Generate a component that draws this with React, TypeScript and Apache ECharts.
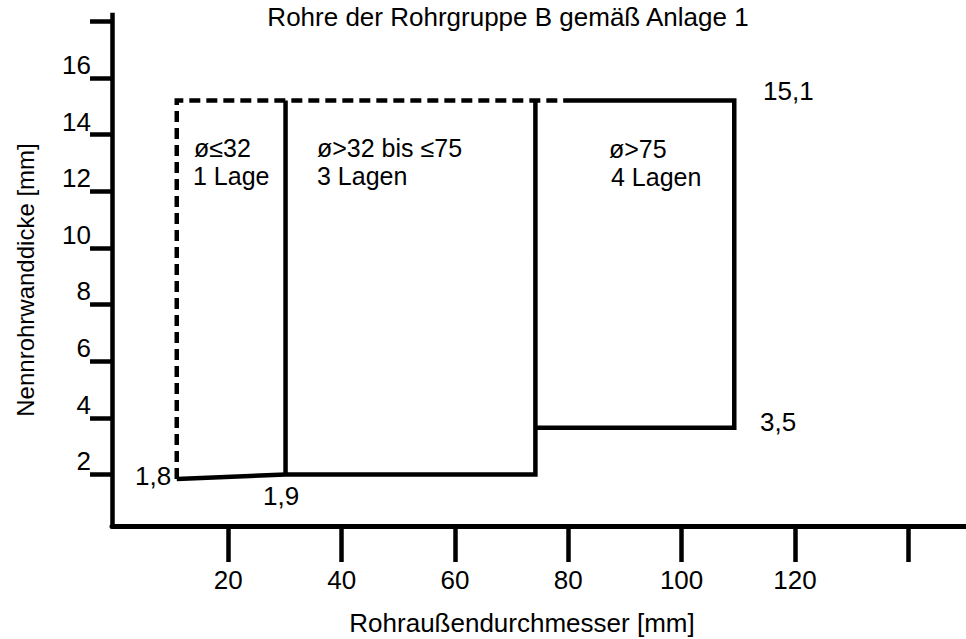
import React, { useEffect, useRef } from "react";
import * as echarts from "echarts";

const chartTitle = "Rohre der Rohrgruppe B gemäß Anlage 1";
const xAxisName = "Rohraußendurchmesser [mm]";
const yAxisName = "Nennrohrwanddicke [mm]";

const xTickValues = [20, 40, 60, 80, 100, 120, 140];
const xLabelValues = [20, 40, 60, 80, 100, 120];
const yTickValues = [2, 4, 6, 8, 10, 12, 14, 16, 18];
const yLabelValues = [2, 4, 6, 8, 10, 12, 14, 16];

// outline of the ranges (x = outer diameter mm, y = wall thickness mm)
const dashedEdge = [
  [10.9, 1.84],
  [10.9, 15.2],
  [79.1, 15.2],
];
const bottomEdge = [
  [10.9, 1.84],
  [30.1, 2.0],
  [74.2, 2.0],
  [74.2, 15.2],
];
const divider32 = [
  [30.1, 2.0],
  [30.1, 15.2],
];
const region75 = [
  [74.2, 3.65],
  [109.3, 3.65],
  [109.3, 15.2],
  [79.1, 15.2],
];

const regionTexts = [
  ["ø≤32", "1 Lage"],
  ["ø>32 bis ≤75", "3 Lagen"],
  ["ø>75", "4 Lagen"],
];
const valueTexts = ["15,1", "3,5", "1,8", "1,9"];

const FONT = "'Liberation Sans', Arial, Helvetica, sans-serif";

export default function App() {
  const ref = useRef<HTMLDivElement>(null);

  useEffect(() => {
    if (!ref.current) return;
    const chart = echarts.init(ref.current, undefined, { renderer: "svg" });

    const lineSeries = (data: number[][], dashed = false) => ({
      type: "line",
      data,
      symbol: "none",
      silent: true,
      lineStyle: {
        color: "#000",
        width: 4.5,
        type: dashed ? [11, 6] : "solid",
        cap: "butt",
        join: "miter",
      },
      z: dashed ? 2 : 3,
    });

    const txt = (
      text: string,
      x: number,
      y: number,
      size: number,
      align: string = "left",
      rotation = 0
    ) => ({
      type: "text",
      x,
      y,
      rotation,
      style: {
        text,
        fill: "#000",
        font: `${size}px ${FONT}`,
        textAlign: align,
        textVerticalAlign: "middle",
      },
    });

    chart.setOption({
      animation: false,
      backgroundColor: "#fff",
      grid: { left: 112, right: 0, top: 15, bottom: 113, containLabel: false },
      xAxis: {
        type: "value",
        min: -0.53,
        max: 150.2,
        splitLine: { show: false },
        axisLine: { show: true, onZero: false, lineStyle: { color: "#000", width: 5 } },
        axisTick: {
          show: true,
          customValues: xTickValues,
          length: 36,
          lineStyle: { color: "#000", width: 4.5 },
        },
        axisLabel: {
          customValues: xLabelValues,
          margin: 41,
          color: "#000",
          fontSize: 26,
          fontFamily: FONT,
          lineHeight: 26,
        },
      },
      yAxis: {
        type: "value",
        min: 0.18,
        max: 18.22,
        splitLine: { show: false },
        axisLine: {
          show: true,
          onZero: false,
          lineStyle: { color: "#000", width: 4.5, cap: "square" },
        },
        axisTick: {
          show: true,
          customValues: yTickValues,
          length: 22,
          lineStyle: { color: "#000", width: 4.5 },
        },
        axisLabel: {
          customValues: yLabelValues,
          margin: 21,
          color: "#000",
          fontSize: 26,
          fontFamily: FONT,
          lineHeight: 26,
          verticalAlign: "bottom",
        },
      },
      series: [
        lineSeries(dashedEdge, true),
        lineSeries(bottomEdge),
        lineSeries(divider32),
        lineSeries(region75),
      ],
      graphic: [
        txt(chartTitle, 508, 16.5, 26, "center"),
        txt(xAxisName, 522, 622.5, 26, "center"),
        txt(yAxisName, 25, 280, 24, "center", Math.PI / 2),
        txt(regionTexts[0][0], 194, 147.5, 25),
        txt(regionTexts[0][1], 193, 175.5, 25),
        txt(regionTexts[1][0], 317, 147.5, 25),
        txt(regionTexts[1][1], 317, 175.5, 25),
        txt(regionTexts[2][0], 609, 148.5, 25),
        txt(regionTexts[2][1], 611, 177, 25),
        txt(valueTexts[0], 763, 91, 26),
        txt(valueTexts[1], 760, 422, 26),
        txt(valueTexts[2], 135, 476, 26),
        txt(valueTexts[3], 263, 496, 26),
      ],
    });

    return () => chart.dispose();
  }, []);

  return (
    <div
      ref={ref}
      style={{ position: "fixed", left: 0, top: 0, width: 966, height: 639, background: "#fff" }}
    />
  );
}
